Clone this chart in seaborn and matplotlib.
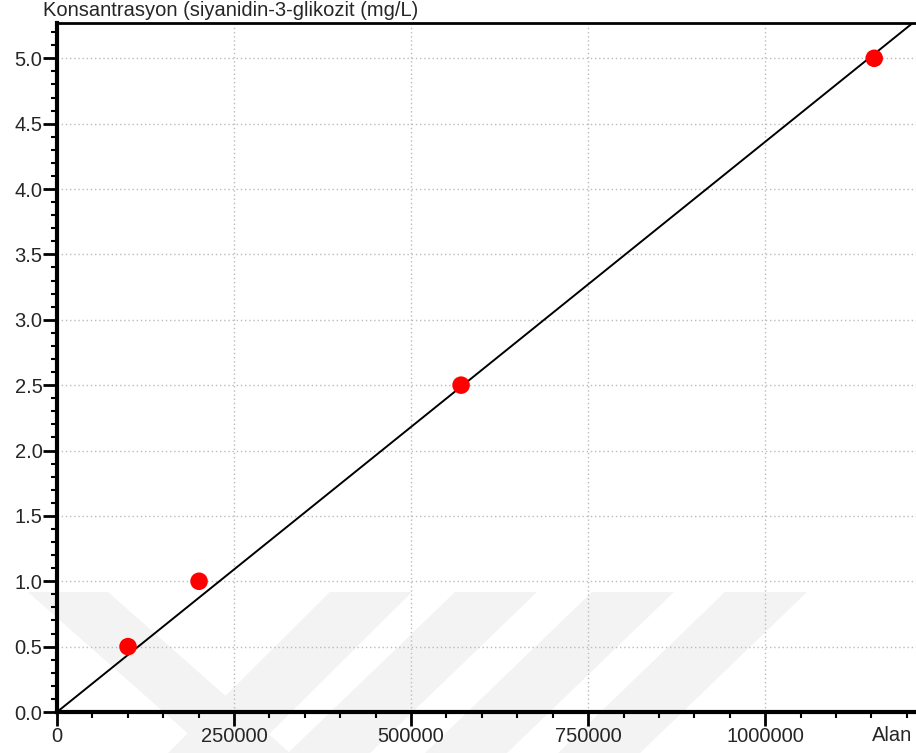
import numpy as np
import pandas as pd
import matplotlib
matplotlib.use('Agg')
import matplotlib.pyplot as plt
from matplotlib.patches import Polygon
from matplotlib.ticker import MultipleLocator, FormatStrFormatter
import seaborn as sns

# Calibration data
area = [100300, 200600, 570600, 1154000]
conc = [0.5, 1.0, 2.5, 5.0]

x_ticks = [0, 250000, 500000, 750000, 1000000]
x_tick_labels = ['0', '250000', '500000', '750000', '1000000']
y_ticks = [0.0, 0.5, 1.0, 1.5, 2.0, 2.5, 3.0, 3.5, 4.0, 4.5, 5.0]
x_max = 1213000
y_max = 5.27

df = pd.DataFrame({'Alan': area, 'Konsantrasyon': conc})

# Linear fit forced through origin
slope = np.sum(df['Alan'] * df['Konsantrasyon']) / np.sum(df['Alan'] ** 2)
fit_x = np.array([0, x_max])
fit_df = pd.DataFrame({'Alan': fit_x, 'Konsantrasyon': slope * fit_x})

sns.set_style('white')
plt.rcParams['font.family'] = ['Liberation Sans', 'DejaVu Sans']

W, H = 916, 753
fig = plt.figure(figsize=(W / 100, H / 100), dpi=100)
ax = fig.add_axes([57 / W, 41 / H, (W - 57) / W, (712 - 23) / H])
ax.set_facecolor('none')

# faint watermark chevrons in the background
def px(pts):
    return [(x / W, 1 - y / H) for x, y in pts]

wm = '#f3f3f3'
shapes = [
    [(28, 592), (108, 592), (290, 753), (210, 753)],
    [(330, 592), (412, 592), (250, 753), (168, 753)],
    [(455, 592), (537, 592), (370, 753), (288, 753)],
    [(592, 592), (674, 592), (507, 753), (425, 753)],
    [(725, 592), (807, 592), (640, 753), (558, 753)],
]
for s in shapes:
    fig.add_artist(Polygon(px(s), closed=True, transform=fig.transFigure,
                           facecolor=wm, edgecolor='none', zorder=-10))

sns.lineplot(data=fit_df, x='Alan', y='Konsantrasyon', color='black',
             linewidth=1.4, ax=ax, zorder=3)
sns.scatterplot(data=df, x='Alan', y='Konsantrasyon', color='red', s=160,
                edgecolor='none', ax=ax, zorder=4, clip_on=False)

ax.set_xlim(0, x_max)
ax.set_ylim(0, y_max)
ax.set_xticks(x_ticks)
ax.set_xticklabels(x_tick_labels)
ax.set_yticks(y_ticks)
ax.xaxis.set_minor_locator(MultipleLocator(50000))
ax.yaxis.set_minor_locator(MultipleLocator(0.1))
ax.yaxis.set_major_formatter(FormatStrFormatter('%.1f'))
ax.set_xlabel('')
ax.set_ylabel('')

ax.grid(True, which='major', color='#bbbbbb', linestyle=(0, (1, 2)), linewidth=1.0)
ax.set_axisbelow(True)

ax.tick_params(axis='both', which='major', direction='out', length=10, width=2,
               labelsize=14.5, color='black', pad=0.5)
ax.tick_params(axis='both', which='minor', direction='out', length=4.5, width=1.5,
               color='black')
ax.tick_params(axis='y', which='both', left=True)
ax.tick_params(axis='x', which='both', bottom=True)

for side in ['left', 'bottom']:
    ax.spines[side].set_linewidth(3)
    ax.spines[side].set_color('black')
ax.spines['top'].set_linewidth(2.0)
ax.spines['top'].set_color('black')
ax.spines['right'].set_visible(False)

ax.text(0.972, -0.020, 'Alan', transform=ax.transAxes, ha='center', va='top',
        fontsize=14.5)
fig.text(43 / W, 1 - 1 / H, 'Konsantrasyon (siyanidin-3-glikozit (mg/L)',
         ha='left', va='top', fontsize=14.5)

fig.savefig('out.png', dpi=100)
